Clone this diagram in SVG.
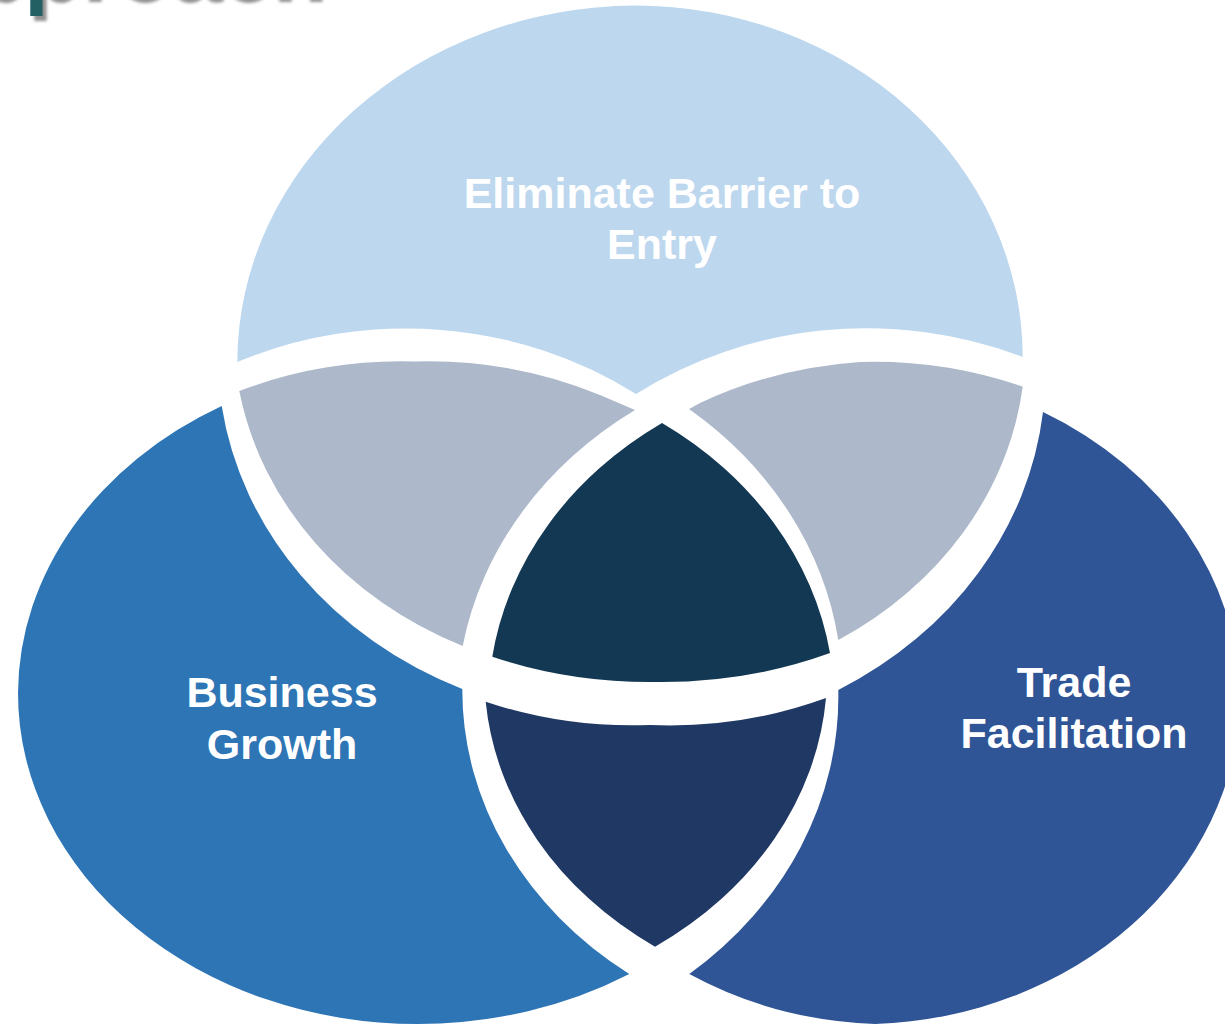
<svg xmlns="http://www.w3.org/2000/svg" width="1225" height="1025" viewBox="0 0 1225 1025">
  <defs>
    <style>
      .lbl { font-family: "Liberation Sans", Arial, sans-serif; font-weight: bold; font-size: 43px; fill: #FFFFFF; text-anchor: middle; }
      .title { font-family: "Liberation Sans", Arial, sans-serif; font-weight: bold; font-size: 90px; fill: #246064; }
    </style>
    <filter id="shadow" x="-10%" y="-10%" width="120%" height="140%">
      <feDropShadow dx="4" dy="5" stdDeviation="1.5" flood-color="#7F7F7F" flood-opacity="0.85"/>
    </filter>
  </defs>
  <rect x="0" y="0" width="1225" height="1025" fill="#FFFFFF"/>

  <g id="title">
    <text class="title" x="-96" y="-3" filter="url(#shadow)">Approach</text>
  </g>

  <g id="region-top">
    <path fill="#BDD7EE" d="M 237.3 362 A 400 357 0 0 1 635 5.5 A 388 352 0 0 1 1022.7 357 A 400 360 0 0 0 636 394 A 400 360 0 0 0 237.3 362 Z"/>
    <text class="lbl" x="662" y="207.5">Eliminate Barrier to</text>
    <text class="lbl" x="662" y="258.5">Entry</text>
  </g>

  <g id="region-top-left">
    <path fill="#ADB9CA" d="M 239.3 391 A 400 345 0 0 1 415 361.5 A 400 345 0 0 1 600 395 L 635 410 A 410 360 0 0 0 462.7 646 A 393 345 0 0 1 239.3 391 Z"/>
  </g>

  <g id="region-top-right">
    <path fill="#ADB9CA" d="M 689 409 L 700 403 A 400 345 0 0 1 860 362 A 400 345 0 0 1 1022.7 386.7 A 393 345 0 0 1 838.3 640 A 410 360 0 0 0 689 409 Z"/>
  </g>

  <g id="region-center">
    <path fill="#133853" d="M 662 423 A 395 340 0 0 0 492.3 656.7 A 393 300 0 0 0 655 682 A 393 300 0 0 0 830 653 A 395 340 0 0 0 662 423 Z"/>
  </g>

  <g id="region-left">
    <path fill="#2E75B6" d="M 221.7 406 A 400 331 0 0 0 18 693 A 400 331 0 0 0 418 1024 A 400 331 0 0 0 629.3 974 A 408 352 0 0 1 462.3 689 A 410 365 0 0 1 221.7 406 Z"/>
    <text class="lbl" x="282" y="706.5">Business</text>
    <text class="lbl" x="282" y="758.5">Growth</text>
  </g>

  <g id="region-bottom">
    <path fill="#203864" d="M 485.7 701.7 A 393 330 0 0 0 650 725 A 393 330 0 0 0 826 698 A 390 330 0 0 1 655 946.7 A 390 330 0 0 1 485.7 701.7 Z"/>
  </g>

  <g id="region-right">
    <path fill="#2F5597" d="M 1043 412 A 380 330 0 0 1 1240 700 A 380 330 0 0 1 875 1024 A 380 330 0 0 1 689.3 974 A 410 360 0 0 0 838.3 690 A 410 365 0 0 0 1043 412 Z"/>
    <text class="lbl" x="1074" y="696.5">Trade</text>
    <text class="lbl" x="1074" y="747.5">Facilitation</text>
  </g>
</svg>
